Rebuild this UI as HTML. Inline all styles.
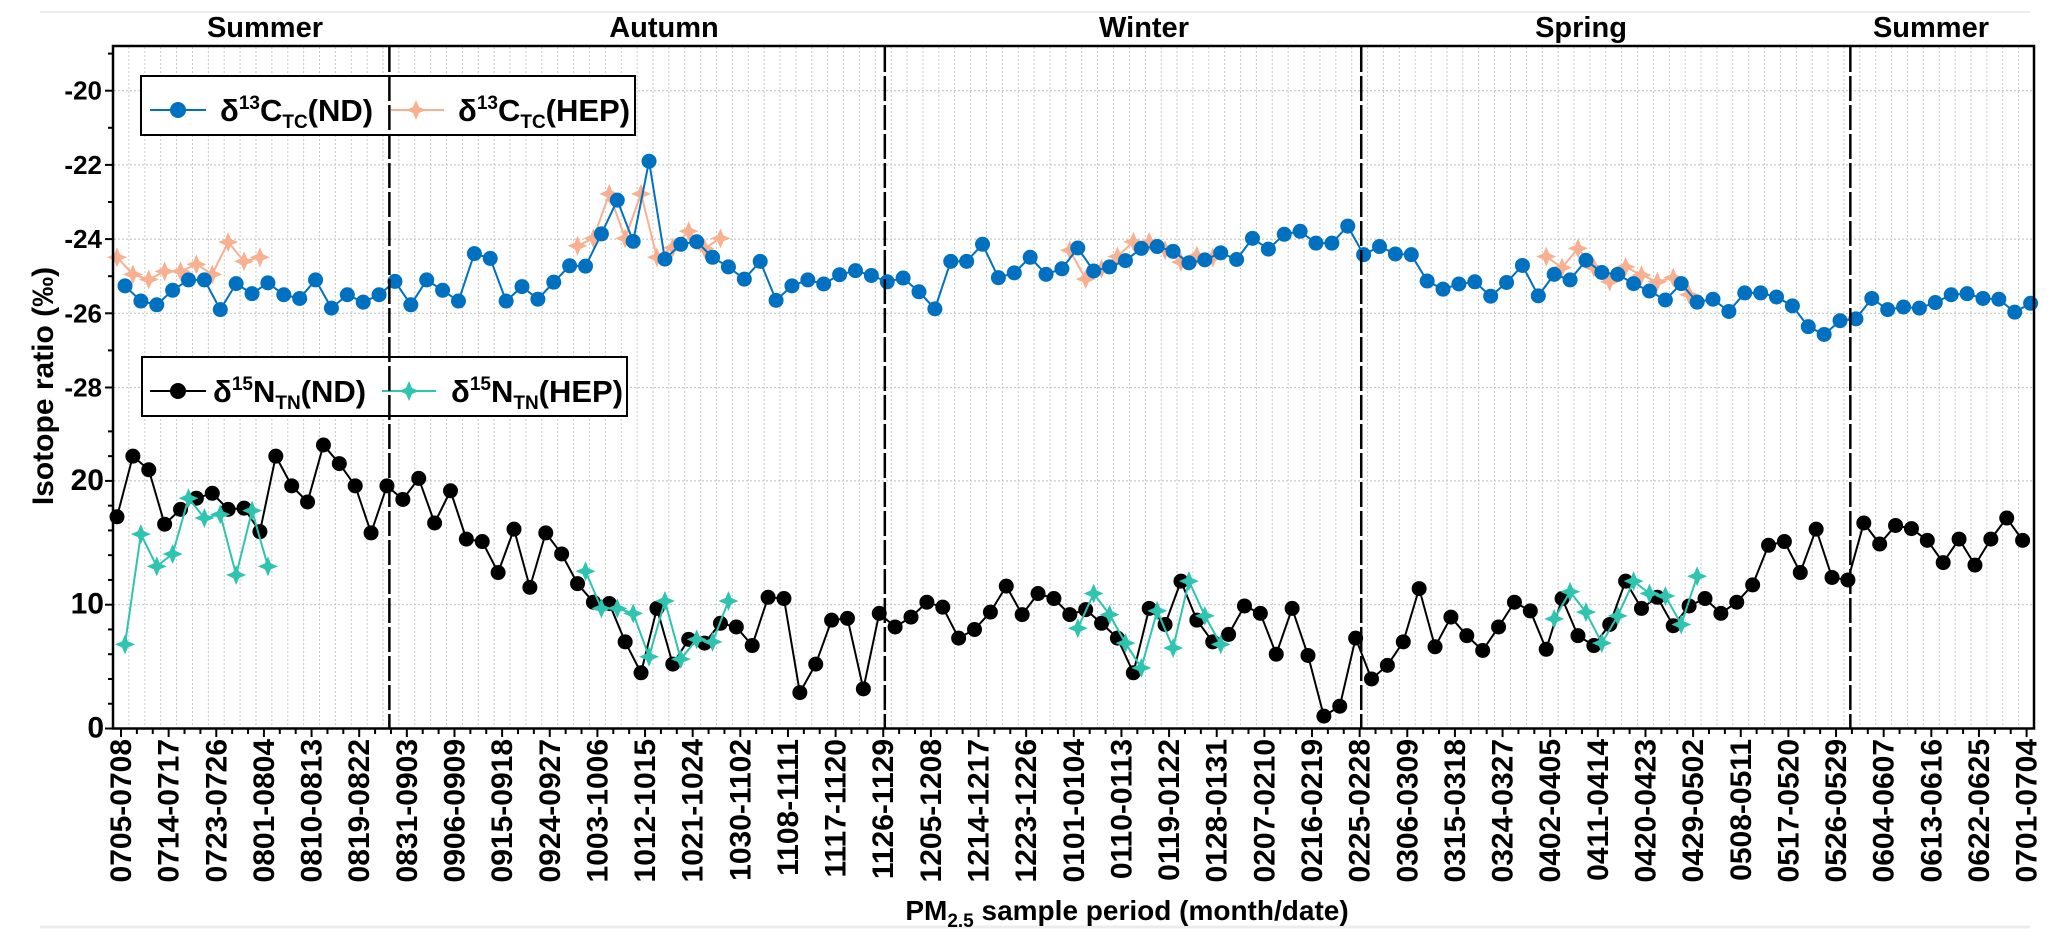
<!DOCTYPE html>
<html><head><meta charset="utf-8"><style>
html,body{margin:0;padding:0;background:#fff;}
svg{display:block;font-family:"Liberation Sans",Arial,sans-serif;font-weight:bold;}
</style></head><body>
<svg id="chart" width="2067" height="941" viewBox="0 0 2067 941" xmlns="http://www.w3.org/2000/svg">
<line x1="40" y1="12" x2="2030" y2="12" stroke="#ececec" stroke-width="2"/>
<line x1="40" y1="927" x2="2030" y2="927" stroke="#ececec" stroke-width="3"/>
<g id="grid"></g>
<g id="series"></g>
<g id="legends">
 <g>
  <rect x="141" y="76" width="494" height="59" fill="#fff" stroke="#000" stroke-width="2"/>
  <g>
   <line x1="150" y1="110" x2="206" y2="110" stroke="#0070C0" stroke-width="2"/>
   <circle cx="178" cy="110" r="8" fill="#0070C0"/>
   <text x="220" y="121" font-size="31">δ<tspan dy="-12" font-size="19">13</tspan><tspan dy="12">C</tspan><tspan dy="7" font-size="19">TC</tspan><tspan dy="-7">(ND)</tspan></text>
  </g>
  <g>
   <line x1="391" y1="110" x2="444" y2="110" stroke="#F8B090" stroke-width="2"/>
   <path d="M416,100 L419,107 L426,110 L419,113 L416,120 L413,113 L406,110 L413,107 Z" fill="#F8B090"/>
   <text x="458" y="121" font-size="31">δ<tspan dy="-12" font-size="19">13</tspan><tspan dy="12">C</tspan><tspan dy="7" font-size="19">TC</tspan><tspan dy="-7">(HEP)</tspan></text>
  </g>
 </g>
 <g>
  <rect x="142" y="357" width="485" height="59" fill="#fff" stroke="#000" stroke-width="2"/>
  <g>
   <line x1="150" y1="391" x2="206" y2="391" stroke="#000" stroke-width="2"/>
   <circle cx="178" cy="391" r="8" fill="#000"/>
   <text x="213" y="402" font-size="31">δ<tspan dy="-12" font-size="19">15</tspan><tspan dy="12">N</tspan><tspan dy="7" font-size="19">TN</tspan><tspan dy="-7">(ND)</tspan></text>
  </g>
  <g>
   <line x1="382" y1="391" x2="436" y2="391" stroke="#2EC4B0" stroke-width="2"/>
   <path d="M409,381 L412,388 L419,391 L412,394 L409,401 L406,394 L399,391 L406,388 Z" fill="#2EC4B0"/>
   <text x="451" y="402" font-size="31">δ<tspan dy="-12" font-size="19">15</tspan><tspan dy="12">N</tspan><tspan dy="7" font-size="19">TN</tspan><tspan dy="-7">(HEP)</tspan></text>
  </g>
 </g>
</g>
<g id="dividers"></g>
<rect x="113" y="46" width="1921" height="682.5" fill="none" stroke="#000" stroke-width="2.5"/>
<g id="axes"></g>
<g font-size="29" text-anchor="middle">
 <text x="265" y="37">Summer</text>
 <text x="664" y="37">Autumn</text>
 <text x="1144" y="37">Winter</text>
 <text x="1581" y="37">Spring</text>
 <text x="1931" y="37">Summer</text>
</g>
<text transform="translate(53,386) rotate(-90)" text-anchor="middle" font-size="30">Isotope ratio (‰)</text>
<text x="1127" y="920" text-anchor="middle" font-size="28">PM<tspan dy="7" font-size="19">2.5</tspan><tspan dy="-7"> sample period (month/date)</tspan></text>
</svg>
<script>
const cND = [-25.26,-25.67,-25.77,-25.38,-25.1,-25.1,-25.9,-25.2,-25.47,-25.18,-25.5,-25.6,-25.1,-25.86,-25.5,-25.7,-25.5,-25.14,-25.77,-25.1,-25.38,-25.67,-24.39,-24.52,-25.67,-25.28,-25.62,-25.16,-24.72,-24.73,-23.86,-22.95,-24.06,-21.9,-24.54,-24.14,-24.07,-24.49,-24.75,-25.08,-24.6,-25.65,-25.26,-25.1,-25.21,-24.96,-24.85,-24.98,-25.15,-25.05,-25.42,-25.88,-24.6,-24.6,-24.14,-25.04,-24.91,-24.49,-24.95,-24.8,-24.24,-24.86,-24.75,-24.58,-24.25,-24.2,-24.33,-24.64,-24.56,-24.37,-24.55,-23.98,-24.27,-23.87,-23.79,-24.11,-24.11,-23.65,-24.42,-24.2,-24.4,-24.42,-25.13,-25.35,-25.21,-25.15,-25.54,-25.17,-24.71,-25.53,-24.95,-25.1,-24.57,-24.9,-24.95,-25.2,-25.4,-25.64,-25.2,-25.7,-25.62,-25.95,-25.45,-25.45,-25.56,-25.8,-26.36,-26.57,-26.2,-26.15,-25.6,-25.9,-25.83,-25.86,-25.71,-25.5,-25.47,-25.6,-25.62,-25.97,-25.73];
const nND = [17.1,22.0,20.9,16.5,17.7,18.6,19.0,17.7,17.8,15.9,22.0,19.6,18.3,22.9,21.4,19.6,15.8,19.6,18.5,20.2,16.6,19.2,15.3,15.1,12.6,16.1,11.4,15.8,14.1,11.7,10.2,10.1,7.0,4.5,9.7,5.2,7.2,6.9,8.5,8.2,6.7,10.6,10.5,2.9,5.2,8.75,8.9,3.2,9.3,8.2,9.0,10.2,9.8,7.3,8.0,9.4,11.5,9.2,10.9,10.5,9.2,9.6,8.5,7.3,4.5,9.7,8.4,11.9,8.75,7.0,7.6,9.9,9.3,6.0,9.7,5.9,1.0,1.8,7.3,4.0,5.1,7.0,11.3,6.6,9.0,7.5,6.3,8.2,10.2,9.5,6.4,10.5,7.5,6.7,8.4,11.9,9.7,10.6,8.3,9.9,10.5,9.3,10.2,11.6,14.8,15.1,12.6,16.1,12.2,12.0,16.6,14.9,16.4,16.15,15.2,13.4,15.3,13.2,15.3,17.0,15.2];
const hepIdx = [0,1,2,3,4,5,6,7,8,9,29,30,31,32,33,34,35,36,37,38,60,61,62,63,64,65,66,67,68,69,90,91,92,93,94,95,96,97,98,99];
const cHEP = [-24.49,-24.95,-25.09,-24.87,-24.87,-24.68,-24.95,-24.08,-24.6,-24.49,-24.18,-23.98,-22.78,-23.98,-22.78,-24.49,-24.23,-23.79,-24.25,-23.98,-24.3,-25.08,-24.8,-24.47,-24.07,-24.07,-24.3,-24.62,-24.45,-24.5,-24.47,-24.77,-24.25,-24.77,-25.15,-24.75,-24.97,-25.15,-25.04,-25.5];
const nHEP = [6.8,15.7,13.1,14.1,18.6,17.0,17.3,12.4,17.6,13.1,12.7,9.7,9.7,9.3,5.8,10.3,5.6,7.2,7.0,10.3,8.1,10.9,9.2,6.9,4.9,9.5,6.5,11.9,9.1,6.8,8.85,11.05,9.4,6.9,9.1,11.9,10.9,10.7,8.4,12.3];
const xLabels = ["0705-0708","0714-0717","0723-0726","0801-0804","0810-0813","0819-0822","0831-0903","0906-0909","0915-0918","0924-0927","1003-1006","1012-1015","1021-1024","1030-1102","1108-1111","1117-1120","1126-1129","1205-1208","1214-1217","1223-1226","0101-0104","0110-0113","0119-0122","0128-0131","0207-0210","0216-0219","0225-0228","0306-0309","0315-0318","0324-0327","0402-0405","0411-0414","0420-0423","0429-0502","0508-0511","0517-0520","0526-0529","0604-0607","0613-0616","0622-0625","0701-0704"];
const topTicks = [-20,-22,-24,-26,-28];
const botTicks = [0,10,20];
const seasonBreaks = [16.9,48.1,78.1,108.9];

const NS='http://www.w3.org/2000/svg';
const X0=121, STEP=15.88, NPTS=121;
function xT(k){return X0+k*STEP;}
function yTop(v){return 90.7+(-20-v)*37.1;}
function yBot(v){return 728.5-v*12.38;}
function mk(tag,attrs,parent){const e=document.createElementNS(NS,tag);for(const k in attrs)e.setAttribute(k,attrs[k]);parent.appendChild(e);return e;}
const grid=document.getElementById('grid'),series=document.getElementById('series'),axes=document.getElementById('axes'),div=document.getElementById('dividers');

for(let k=0;k<NPTS;k++){const x=xT(k)+STEP/2; if(x<2034){const l=mk('line',{x1:x,y1:47,x2:x,y2:727,stroke:'#c8c8c8','stroke-width':1,'stroke-dasharray':'2,2'},grid);

}}
topTicks.forEach(v=>{const l=mk('line',{x1:114,y1:yTop(v),x2:2033,y2:yTop(v),stroke:'#c8c8c8','stroke-width':1.2,'stroke-dasharray':'2,2'},grid);

});
botTicks.filter(v=>v>0).forEach(v=>{const l=mk('line',{x1:114,y1:yBot(v),x2:2033,y2:yBot(v),stroke:'#c8c8c8','stroke-width':1.2,'stroke-dasharray':'2,2'},grid);

});

function star(cx,cy,r,fill,g){const i=r*0.3;const d=`M${cx},${cy-r} L${cx+i},${cy-i} L${cx+r},${cy} L${cx+i},${cy+i} L${cx},${cy+r} L${cx-i},${cy+i} L${cx-r},${cy} L${cx-i},${cy-i} Z`;return mk('path',{d:d,fill:fill},g);}
function drawSeries(name,idx,vals,yf,off,color,shape,lw){
 const g=mk('g',{},series);
 
 
 let segs=[],cur=[];
 idx.forEach((k,j)=>{if(j>0&&k!==idx[j-1]+1){segs.push(cur);cur=[];}cur.push([xT(k)+off,yf(vals[j])]);});
 segs.push(cur);
 segs.forEach(s=>{const p=mk('polyline',{points:s.map(q=>q.join(',')).join(' '),fill:'none',stroke:color,'stroke-width':lw},g);
  
  });
 idx.forEach((k,j)=>{const x=xT(k)+off,y=yf(vals[j]);let m;
  if(shape==='circle')m=mk('circle',{cx:x,cy:y,r:7.5,fill:color},g);else m=star(x,y,10,color,g);
  
  });
}
const allIdx=[...Array(NPTS).keys()];
drawSeries('c-hep-series',hepIdx,cHEP,yTop,-4,'#F8B090','star',2);
drawSeries('c-nd-series',allIdx,cND,yTop,4,'#0070C0','circle',2);
drawSeries('n-nd-series',allIdx,nND,yBot,-4,'#000000','circle',2);
drawSeries('n-hep-series',hepIdx,nHEP,yBot,4,'#2EC4B0','star',2);

seasonBreaks.forEach(b=>{const x=xT(b);const l=mk('line',{x1:x,y1:47,x2:x,y2:728,stroke:'#000','stroke-width':2.5,'stroke-dasharray':'25,4'},div);

});

for(let k=0;k<NPTS;k++){const x=xT(k);const major=k%3===0;
 const t=mk('line',{x1:x,y1:729,x2:x,y2:major?737:734,stroke:'#000','stroke-width':2},axes);
 
 
 if(major){const tx=mk('text',{transform:`translate(${x+10},739) rotate(-90)`,'text-anchor':'end','font-size':30},axes);tx.textContent=xLabels[k/3];
  
  }}
topTicks.forEach(v=>{const y=yTop(v);const t=mk('line',{x1:105,y1:y,x2:113,y2:y,stroke:'#000','stroke-width':2},axes);
 
 
 const tx=mk('text',{x:102,y:y+9,'text-anchor':'end','font-size':26},axes);tx.textContent=String(v);
 
 });
[-19,-21,-23,-25,-27].forEach(v=>{const y=yTop(v);const t=mk('line',{x1:108,y1:y,x2:113,y2:y,stroke:'#000','stroke-width':2},axes);
 
 });
botTicks.forEach(v=>{const y=yBot(v);const t=mk('line',{x1:105,y1:y,x2:113,y2:y,stroke:'#000','stroke-width':2},axes);
 
 
 const tx=mk('text',{x:104,y:y+9,'text-anchor':'end','font-size':30},axes);tx.textContent=String(v);
 
 });
[2,4,6,8,12,14,16,18,22,24].forEach(v=>{const y=yBot(v);const t=mk('line',{x1:108,y1:y,x2:113,y2:y,stroke:'#000','stroke-width':2},axes);
 
 });
</script>
</body></html>
